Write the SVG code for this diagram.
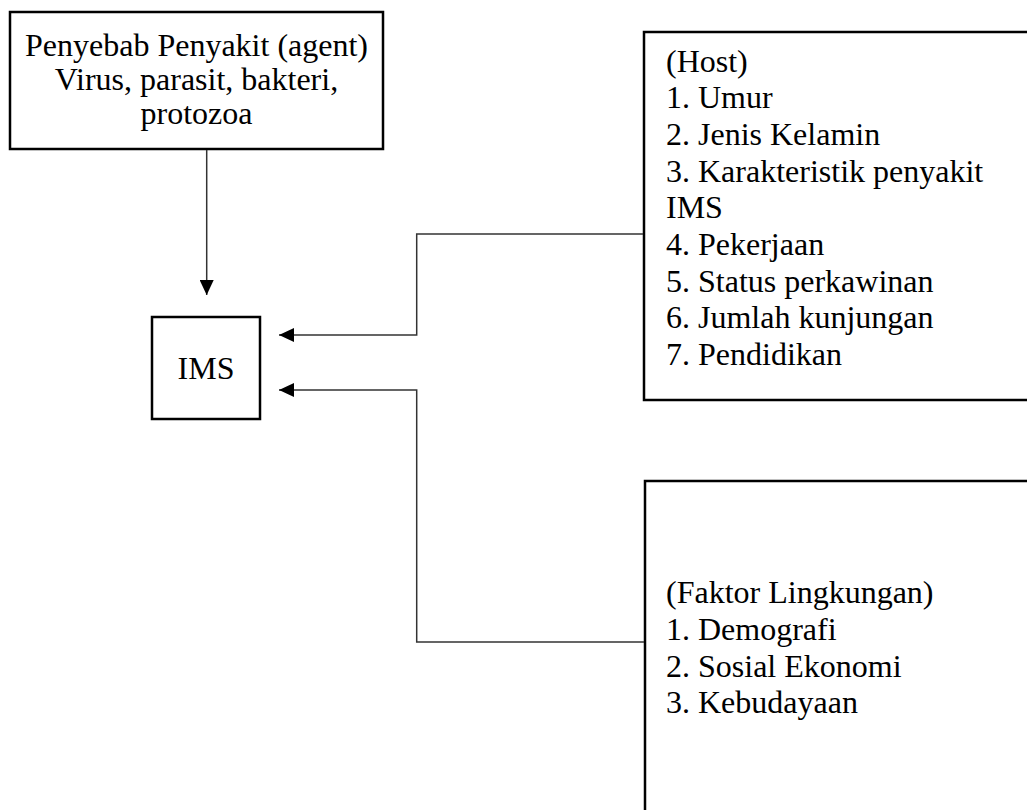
<svg xmlns="http://www.w3.org/2000/svg" width="1027" height="810" viewBox="0 0 1027 810">
  <style>
    .box { fill: #ffffff; stroke: #000000; stroke-width: 2.5; }
    .txt { font-family: "Liberation Serif", "Times New Roman", serif; font-size: 32px; fill: #000000; }
    .conn { fill: none; stroke: #333333; stroke-width: 1.5; }
  </style>
  <defs>
    <marker id="arrow" viewBox="0 0 15 14" refX="15" refY="7" markerWidth="15" markerHeight="14" markerUnits="userSpaceOnUse" orient="auto">
      <path d="M0,0 L15,7 L0,14 Z" fill="#000000"/>
    </marker>
  </defs>
  <rect width="1027" height="810" fill="#ffffff"/>

  <g id="agent">
    <rect class="box" x="10" y="12" width="373" height="137"/>
    <text class="txt" x="196.5" y="56" text-anchor="middle">Penyebab Penyakit (agent)</text>
    <text class="txt" x="196.5" y="90" text-anchor="middle">Virus, parasit, bakteri,</text>
    <text class="txt" x="196.5" y="124" text-anchor="middle">protozoa</text>
  </g>

  <g id="ims">
    <rect class="box" x="152" y="317" width="108" height="102"/>
    <text class="txt" x="206" y="379" text-anchor="middle">IMS</text>
  </g>

  <g id="host">
    <rect class="box" x="644" y="32" width="400" height="368"/>
    <text class="txt" x="666" y="71.5">(Host)</text>
    <text class="txt" x="666" y="108.2">1. Umur</text>
    <text class="txt" x="666" y="144.9">2. Jenis Kelamin</text>
    <text class="txt" x="666" y="181.6">3. Karakteristik penyakit</text>
    <text class="txt" x="666" y="218.3">IMS</text>
    <text class="txt" x="666" y="255">4. Pekerjaan</text>
    <text class="txt" x="666" y="291.7">5. Status perkawinan</text>
    <text class="txt" x="666" y="328.4">6. Jumlah kunjungan</text>
    <text class="txt" x="666" y="365.1">7. Pendidikan</text>
  </g>

  <g id="lingkungan">
    <rect class="box" x="645" y="481" width="400" height="400"/>
    <text class="txt" x="666" y="603.3">(Faktor Lingkungan)</text>
    <text class="txt" x="666" y="640">1. Demografi</text>
    <text class="txt" x="666" y="676.7">2. Sosial Ekonomi</text>
    <text class="txt" x="666" y="713.4">3. Kebudayaan</text>
  </g>

  <g id="connectors">
    <path class="conn" d="M206.7,150 L206.7,295" marker-end="url(#arrow)"/>
    <path class="conn" d="M643,234 L416.7,234 L416.7,335 L279,335" marker-end="url(#arrow)"/>
    <path class="conn" d="M644,642 L416.7,642 L416.7,390 L279,390" marker-end="url(#arrow)"/>
  </g>
</svg>
